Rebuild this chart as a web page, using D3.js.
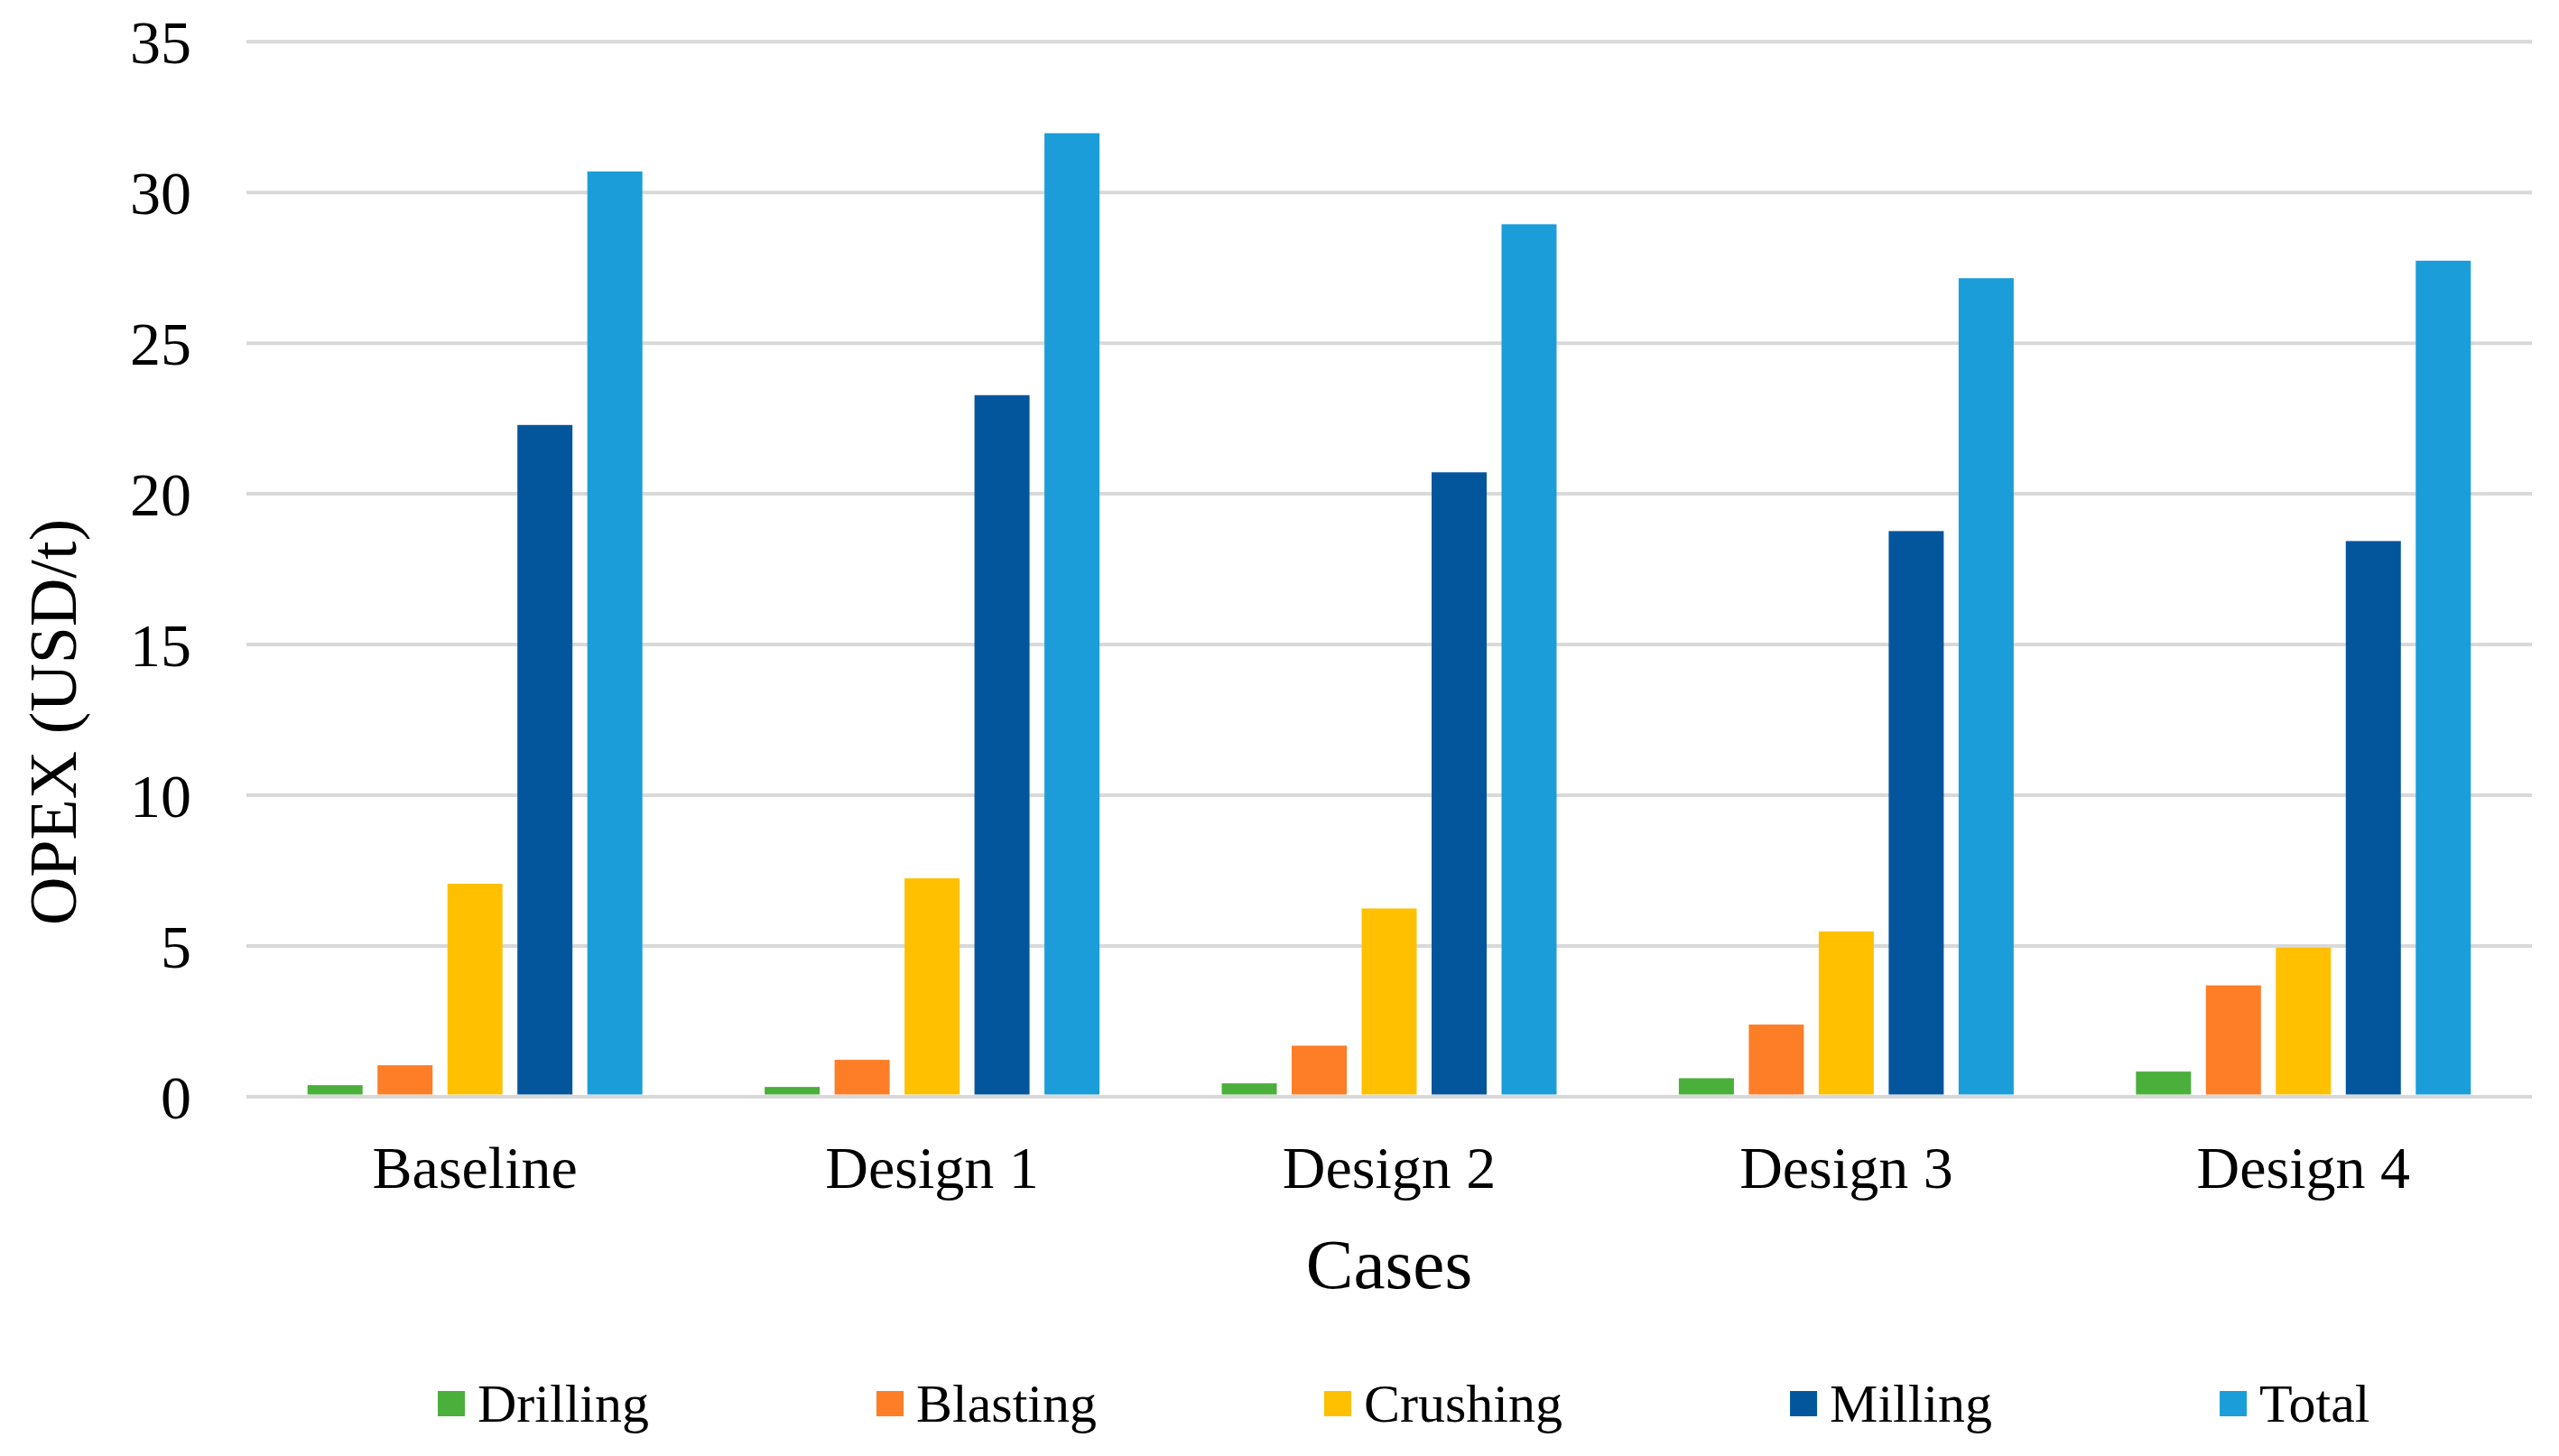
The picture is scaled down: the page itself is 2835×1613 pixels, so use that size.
<!DOCTYPE html>
<html lang="en">
<head>
<meta charset="utf-8">
<title>OPEX by case</title>
<script src="https://cdn.jsdelivr.net/npm/d3@7"></script>
<style>
    body { margin: 0; background: #fff; }
    svg text { font-family: "Liberation Serif", "Times New Roman", serif; fill: #000; }
</style>
</head>
<body>
<svg id="chart" width="2835" height="1613"></svg>
<script>
// values (USD/t)
var cases    = ['Baseline', 'Design 1', 'Design 2', 'Design 3', 'Design 4'];
var series   = ['Drilling', 'Blasting', 'Crushing', 'Milling', 'Total'];
var drilling = [0.37, 0.31, 0.43, 0.60, 0.82];
var blasting = [1.03, 1.21, 1.68, 2.38, 3.68];
var crushing = [7.05, 7.23, 6.23, 5.47, 4.93];
var milling  = [22.27, 23.26, 20.70, 18.75, 18.42];
var total    = [30.68, 31.95, 28.93, 27.14, 27.72];
var yTicks   = [0, 5, 10, 15, 20, 25, 30, 35];

var values = [drilling, blasting, crushing, milling, total];
var colors = ['#4aaf3b', '#fd7e27', '#ffc000', '#04569c', '#1b9dd9'];

var margin = {left: 273, right: 30, top: 45.7},
    width = 2805 - margin.left,
    height = 1214.5 - margin.top;

var svg = d3.select('#chart');
var g = svg.append('g').attr('transform', 'translate(' + margin.left + ',' + margin.top + ')');

var x = d3.scaleBand().domain(cases).range([0, width]).paddingInner(0).paddingOuter(0);
var xs = d3.scaleBand().domain(series).range([0, x.bandwidth()])
    .paddingInner(0.213).paddingOuter(0.874);
var y = d3.scaleLinear().domain([0, 35]).range([height, 0]);

// gridlines + y tick labels
var yAxis = g.append('g')
    .call(d3.axisLeft(y).tickValues(yTicks).tickSize(-width).tickPadding(61).tickFormat(d3.format('d')));
yAxis.select('.domain').remove();
yAxis.selectAll('.tick line').attr('stroke', '#d9d9d9').attr('stroke-width', 4);
yAxis.selectAll('.tick text').attr('font-size', 68).attr('dy', '0.35em');

// bars
var groups = g.selectAll('.case')
    .data(cases)
    .enter().append('g')
    .attr('class', 'case')
    .attr('transform', function (d) { return 'translate(' + x(d) + ',0)'; });

groups.selectAll('rect')
    .data(function (d, i) {
        return series.map(function (s, j) { return {s: s, v: values[j][i], c: colors[j]}; });
    })
    .enter().append('rect')
    .attr('x', function (d) { return xs(d.s); })
    .attr('width', xs.bandwidth())
    .attr('y', function (d) { return y(d.v); })
    .attr('height', function (d) { return y(0) - y(d.v) - 2; })
    .attr('fill', function (d) { return d.c; });

// category labels
var xAxis = g.append('g')
    .attr('transform', 'translate(0,' + height + ')')
    .call(d3.axisBottom(x).tickSize(0));
xAxis.select('.domain').remove();
xAxis.selectAll('.tick text').attr('font-size', 66).attr('y', 101.5).attr('dy', 0);

// axis titles
svg.append('text')
    .attr('x', margin.left + width / 2)
    .attr('y', 1427)
    .attr('text-anchor', 'middle')
    .attr('font-size', 79)
    .text('Cases');

svg.append('text')
    .attr('transform', 'translate(84,800) rotate(-90)')
    .attr('text-anchor', 'middle')
    .attr('font-size', 74)
    .text('OPEX (USD/t)');

// legend
var legend = svg.append('g').attr('class', 'legend');
var lx = 485;
series.forEach(function (s, i) {
    legend.append('rect')
        .attr('x', lx).attr('y', 1541)
        .attr('width', 30).attr('height', 28)
        .attr('fill', colors[i]);
    var t = legend.append('text')
        .attr('x', lx + 44).attr('y', 1575)
        .attr('font-size', 60)
        .text(s);
    lx += t.node().getComputedTextLength() + 296;
});
</script>
</body>
</html>
